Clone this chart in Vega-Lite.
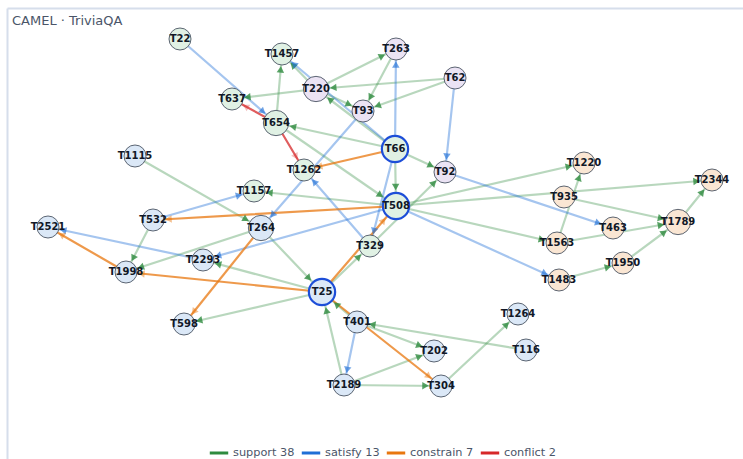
{
  "$schema": "https://vega.github.io/schema/vega-lite/v6.json",
  "autosize": {"type": "none"},
  "width": 736,
  "height": 451,
  "padding": {"left": 7, "top": 8, "right": 0, "bottom": 0},
  "background": "white",
  "title": {"text": "CAMEL · TriviaQA", "anchor": "start", "frame": "group", "orient": "top", "offset": -20, "dx": 5, "fontSize": 13, "fontWeight": "normal", "color": "#4a5568", "font": "DejaVu Sans"},
  "config": {
    "view": {"stroke": null},
    "font": "DejaVu Sans",
    "axis": {"labels": false, "ticks": false, "grid": false, "title": null, "domainColor": "#d6deeb", "domainWidth": 2}
  },
  "datasets": {
    "nodes": [
      {"id": "T22", "x": 180, "y": 39, "grp": "g", "tier": 1, "hub": false},
      {"id": "T1457", "x": 282, "y": 54, "grp": "g", "tier": 1, "hub": false},
      {"id": "T263", "x": 396, "y": 49, "grp": "p", "tier": 1, "hub": false},
      {"id": "T220", "x": 316, "y": 89, "grp": "p", "tier": 2, "hub": false},
      {"id": "T62", "x": 455, "y": 78, "grp": "p", "tier": 1, "hub": false},
      {"id": "T637", "x": 232, "y": 99, "grp": "g", "tier": 1, "hub": false},
      {"id": "T93", "x": 363, "y": 111, "grp": "p", "tier": 1, "hub": false},
      {"id": "T654", "x": 276, "y": 123, "grp": "g", "tier": 2, "hub": false},
      {"id": "T66", "x": 395, "y": 149, "grp": "g", "tier": 3, "hub": true},
      {"id": "T1262", "x": 304, "y": 170, "grp": "g", "tier": 1, "hub": false},
      {"id": "T92", "x": 445, "y": 172, "grp": "p", "tier": 1, "hub": false},
      {"id": "T1115", "x": 135, "y": 156, "grp": "b", "tier": 1, "hub": false},
      {"id": "T1157", "x": 254, "y": 191, "grp": "g", "tier": 1, "hub": false},
      {"id": "T508", "x": 396, "y": 206, "grp": "g", "tier": 3, "hub": true},
      {"id": "T1220", "x": 584, "y": 163, "grp": "o", "tier": 1, "hub": false},
      {"id": "T935", "x": 564, "y": 197, "grp": "o", "tier": 1, "hub": false},
      {"id": "T2344", "x": 712, "y": 180, "grp": "o", "tier": 1, "hub": false},
      {"id": "T532", "x": 153, "y": 220, "grp": "b", "tier": 1, "hub": false},
      {"id": "T264", "x": 261, "y": 228, "grp": "b", "tier": 2, "hub": false},
      {"id": "T2521", "x": 48, "y": 227, "grp": "b", "tier": 1, "hub": false},
      {"id": "T463", "x": 613, "y": 228, "grp": "o", "tier": 1, "hub": false},
      {"id": "T1789", "x": 678, "y": 222, "grp": "o", "tier": 2, "hub": false},
      {"id": "T329", "x": 370, "y": 246, "grp": "g", "tier": 1, "hub": false},
      {"id": "T1563", "x": 557, "y": 243, "grp": "o", "tier": 1, "hub": false},
      {"id": "T2293", "x": 203, "y": 260, "grp": "b", "tier": 1, "hub": false},
      {"id": "T1998", "x": 126, "y": 272, "grp": "b", "tier": 1, "hub": false},
      {"id": "T1950", "x": 623, "y": 263, "grp": "o", "tier": 1, "hub": false},
      {"id": "T1483", "x": 559, "y": 280, "grp": "o", "tier": 1, "hub": false},
      {"id": "T25", "x": 322, "y": 292, "grp": "b", "tier": 3, "hub": true},
      {"id": "T401", "x": 357, "y": 322, "grp": "b", "tier": 1, "hub": false},
      {"id": "T598", "x": 184, "y": 324, "grp": "b", "tier": 1, "hub": false},
      {"id": "T1264", "x": 518, "y": 314, "grp": "b", "tier": 1, "hub": false},
      {"id": "T202", "x": 434, "y": 351, "grp": "b", "tier": 1, "hub": false},
      {"id": "T116", "x": 526, "y": 350, "grp": "b", "tier": 1, "hub": false},
      {"id": "T2189", "x": 344, "y": 385, "grp": "b", "tier": 1, "hub": false},
      {"id": "T304", "x": 441, "y": 386, "grp": "b", "tier": 1, "hub": false}
    ],
    "edges": [
      {"s": "T220", "t": "T263", "type": "support 38"},
      {"s": "T263", "t": "T93", "type": "support 38"},
      {"s": "T62", "t": "T220", "type": "support 38"},
      {"s": "T62", "t": "T93", "type": "support 38"},
      {"s": "T220", "t": "T637", "type": "support 38"},
      {"s": "T654", "t": "T1457", "type": "support 38"},
      {"s": "T220", "t": "T93", "type": "support 38"},
      {"s": "T66", "t": "T654", "type": "support 38"},
      {"s": "T66", "t": "T92", "type": "support 38"},
      {"s": "T66", "t": "T508", "type": "support 38"},
      {"s": "T654", "t": "T508", "type": "support 38"},
      {"s": "T508", "t": "T1157", "type": "support 38"},
      {"s": "T1115", "t": "T264", "type": "support 38"},
      {"s": "T532", "t": "T1998", "type": "support 38"},
      {"s": "T264", "t": "T1998", "type": "support 38"},
      {"s": "T264", "t": "T25", "type": "support 38"},
      {"s": "T25", "t": "T598", "type": "support 38"},
      {"s": "T25", "t": "T2293", "type": "support 38"},
      {"s": "T25", "t": "T329", "type": "support 38"},
      {"s": "T329", "t": "T92", "type": "support 38"},
      {"s": "T508", "t": "T1220", "type": "support 38"},
      {"s": "T508", "t": "T2344", "type": "support 38"},
      {"s": "T508", "t": "T1563", "type": "support 38"},
      {"s": "T401", "t": "T25", "type": "support 38"},
      {"s": "T401", "t": "T202", "type": "support 38"},
      {"s": "T116", "t": "T401", "type": "support 38"},
      {"s": "T2189", "t": "T25", "type": "support 38"},
      {"s": "T2189", "t": "T202", "type": "support 38"},
      {"s": "T2189", "t": "T304", "type": "support 38"},
      {"s": "T304", "t": "T1264", "type": "support 38"},
      {"s": "T935", "t": "T1789", "type": "support 38"},
      {"s": "T1563", "t": "T1220", "type": "support 38"},
      {"s": "T1563", "t": "T1789", "type": "support 38"},
      {"s": "T1483", "t": "T1950", "type": "support 38"},
      {"s": "T1950", "t": "T1789", "type": "support 38"},
      {"s": "T1789", "t": "T2344", "type": "support 38"},
      {"s": "T220", "t": "T1457", "type": "support 38"},
      {"s": "T66", "t": "T220", "type": "support 38"},
      {"s": "T22", "t": "T654", "type": "satisfy 13"},
      {"s": "T66", "t": "T1457", "type": "satisfy 13"},
      {"s": "T66", "t": "T263", "type": "satisfy 13"},
      {"s": "T62", "t": "T92", "type": "satisfy 13"},
      {"s": "T93", "t": "T264", "type": "satisfy 13"},
      {"s": "T92", "t": "T463", "type": "satisfy 13"},
      {"s": "T508", "t": "T1483", "type": "satisfy 13"},
      {"s": "T508", "t": "T2293", "type": "satisfy 13"},
      {"s": "T2293", "t": "T2521", "type": "satisfy 13"},
      {"s": "T532", "t": "T1157", "type": "satisfy 13"},
      {"s": "T329", "t": "T1262", "type": "satisfy 13"},
      {"s": "T66", "t": "T329", "type": "satisfy 13"},
      {"s": "T401", "t": "T2189", "type": "satisfy 13"},
      {"s": "T66", "t": "T1262", "type": "constrain 7"},
      {"s": "T508", "t": "T532", "type": "constrain 7"},
      {"s": "T25", "t": "T1998", "type": "constrain 7"},
      {"s": "T1998", "t": "T2521", "type": "constrain 7"},
      {"s": "T264", "t": "T598", "type": "constrain 7"},
      {"s": "T25", "t": "T508", "type": "constrain 7"},
      {"s": "T25", "t": "T304", "type": "constrain 7"},
      {"s": "T654", "t": "T637", "type": "conflict 2"},
      {"s": "T654", "t": "T1262", "type": "conflict 2"}
    ]
  },
  "layer": [
    {
      "data": {"name": "edges"},
      "transform": [
        {"lookup": "s", "from": {"data": {"name": "nodes"}, "key": "id", "fields": ["x", "y"]}, "as": ["x1", "y1"]},
        {"lookup": "t", "from": {"data": {"name": "nodes"}, "key": "id", "fields": ["x", "y", "tier"]}, "as": ["x2", "y2", "t2"]}
      ],
      "mark": {"type": "rule", "strokeWidth": 2.2, "strokeCap": "round"},
      "encoding": {
        "x": {"field": "x1", "type": "quantitative", "scale": {"domain": [7, 743], "nice": false, "zero": false}, "axis": {"orient": "top"}},
        "y": {"field": "y1", "type": "quantitative", "scale": {"domain": [8, 459], "nice": false, "zero": false, "reverse": true}, "axis": {"orient": "left"}},
        "x2": {"field": "x2"},
        "y2": {"field": "y2"},
        "color": {"field": "type", "type": "nominal",
          "scale": {"domain": ["support 38", "satisfy 13", "constrain 7", "conflict 2"], "range": ["#2e8b3e", "#1f6fd6", "#e8770f", "#d62728"]},
          "legend": {"orient": "none", "legendX": 201, "legendY": 434, "direction": "horizontal", "title": null, "symbolType": "stroke", "symbolStrokeWidth": 3, "symbolSize": 340, "symbolOpacity": 1, "labelFontSize": 11.3, "labelColor": "#4a5568", "labelFont": "DejaVu Sans", "labelOffset": 3, "columnPadding": 0, "symbolOffset": 0,
            "encode": {"symbols": {"update": {"opacity": {"value": 1}, "strokeOpacity": {"value": 1}}}}}},
        "opacity": {"field": "type", "type": "nominal", "scale": {"type": "ordinal", "domain": ["support 38", "satisfy 13", "constrain 7", "conflict 2"], "range": [0.34, 0.4, 0.75, 0.75]}, "legend": null}
      }
    },
    {
      "data": {"name": "edges"},
      "transform": [
        {"lookup": "s", "from": {"data": {"name": "nodes"}, "key": "id", "fields": ["x", "y"]}, "as": ["x1", "y1"]},
        {"lookup": "t", "from": {"data": {"name": "nodes"}, "key": "id", "fields": ["x", "y", "tier"]}, "as": ["x2", "y2", "t2"]},
        {"calculate": "datum.x2 - datum.x1", "as": "dx"},
        {"calculate": "datum.y2 - datum.y1", "as": "dy"},
        {"calculate": "sqrt(datum.dx*datum.dx + datum.dy*datum.dy)", "as": "len"},
        {"calculate": "(datum.t2 == 3 ? 14.5 : datum.t2 == 2 ? 12.8 : 11) + 4.5", "as": "rr"},
        {"calculate": "datum.x2 - datum.dx / datum.len * datum.rr", "as": "ax"},
        {"calculate": "datum.y2 - datum.dy / datum.len * datum.rr", "as": "ay"},
        {"calculate": "atan2(datum.dx, -datum.dy) * 180 / PI", "as": "ang"}
      ],
      "mark": {"type": "point", "shape": "triangle-up", "filled": true, "size": 56, "strokeWidth": 0},
      "encoding": {
        "x": {"field": "ax", "type": "quantitative"},
        "y": {"field": "ay", "type": "quantitative"},
        "angle": {"field": "ang", "type": "quantitative", "scale": null},
        "color": {"field": "type", "type": "nominal"},
        "opacity": {"field": "type", "type": "nominal", "legend": null}
      }
    },
    {
      "data": {"name": "nodes"},
      "mark": {"type": "point", "shape": "circle", "filled": true, "opacity": 1},
      "encoding": {
        "x": {"field": "x", "type": "quantitative"},
        "y": {"field": "y", "type": "quantitative"},
        "size": {"field": "tier", "type": "ordinal", "scale": {"type": "ordinal", "domain": [1, 2, 3], "range": [484, 640, 690]}, "legend": null},
        "fill": {"field": "grp", "type": "nominal", "scale": {"domain": ["g", "p", "b", "o"], "range": ["#e0f1e4", "#ebe3f4", "#dbe8f7", "#fae6d3"]}, "legend": null},
        "stroke": {"condition": {"test": "datum.hub", "value": "#1d4ed8"}, "value": "#4b5563"},
        "strokeWidth": {"condition": {"test": "datum.hub", "value": 2.2}, "value": 0.9}
      }
    },
    {
      "data": {"name": "nodes"},
      "mark": {"type": "text", "fontSize": 10, "fontWeight": "bold", "font": "DejaVu Sans", "color": "#111827", "baseline": "middle", "align": "center"},
      "encoding": {
        "x": {"field": "x", "type": "quantitative"},
        "y": {"field": "y", "type": "quantitative"},
        "text": {"field": "id"}
      }
    }
  ]
}
